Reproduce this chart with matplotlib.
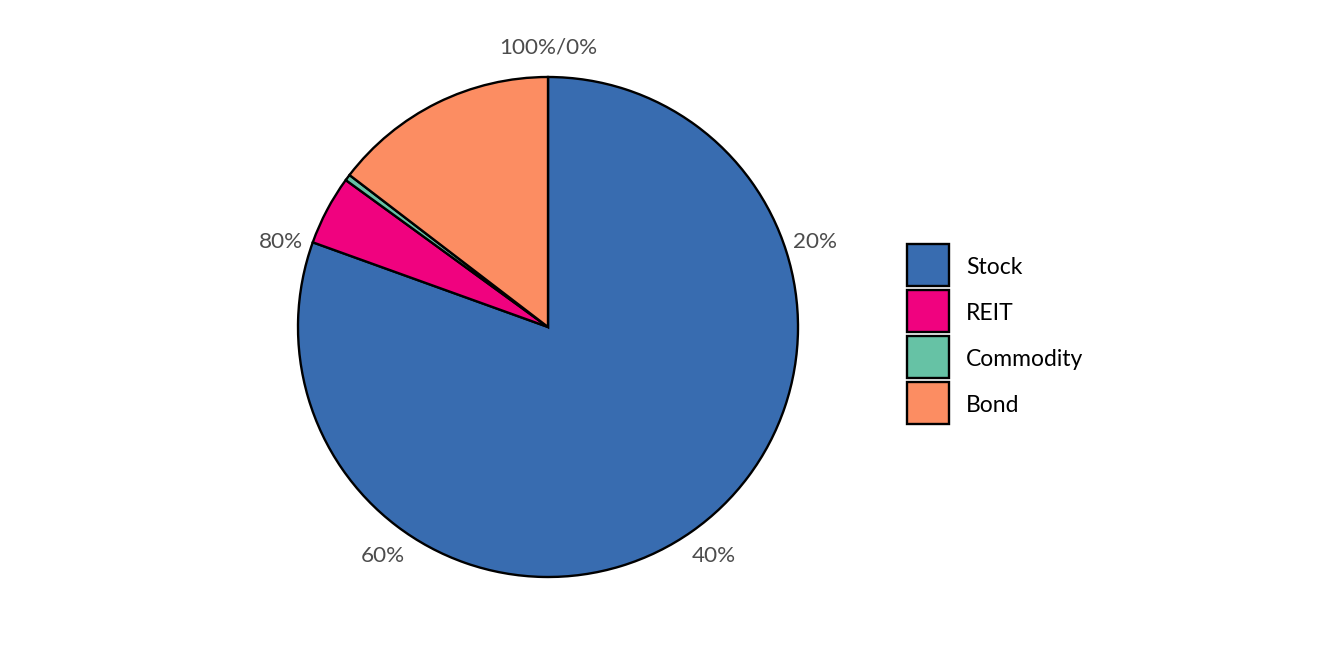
import matplotlib
matplotlib.use("Agg")
import matplotlib.pyplot as plt
from matplotlib.patches import Rectangle
import numpy as np

plt.rcParams['font.family'] = ['Lato', 'DejaVu Sans']

categories = ["Stock", "REIT", "Commodity", "Bond"]
values = [80.5, 4.5, 0.4, 14.6]
colors = ["#386CB0", "#F0027F", "#66C2A5", "#FC8D62"]
tick_positions = [0, 20, 40, 60, 80]
tick_labels = ["100%/0%", "20%", "40%", "60%", "80%"]

W, H = 1344, 672
fig = plt.figure(figsize=(W / 100, H / 100), dpi=100)

# pie axes: center (548, 327) px from top, radius 250 px; limits ±1.3
R = 1.3
size = 650
cx, cy = 548, 327
ax = fig.add_axes([(cx - size / 2) / W, (H - cy - size / 2) / H, size / W, size / H])
wedges, _ = ax.pie(values, colors=colors, startangle=90, counterclock=False,
                   radius=1.0, wedgeprops=dict(edgecolor="black", linewidth=1.7))
ax.set_xlim(-R, R)
ax.set_ylim(-R, R)
ax.set_aspect("equal")
ax.axis("off")

for pos, lab in zip(tick_positions, tick_labels):
    ang = np.deg2rad(90 - pos / 100 * 360)
    r = 1.125
    ax.text(r * np.cos(ang), r * np.sin(ang) - 0.006, lab, ha="center", va="center",
            fontsize=16.2, color="#4D4D4D")

# legend drawn in pixel coords
lax = fig.add_axes([0, 0, 1, 1])
lax.set_xlim(0, W)
lax.set_ylim(H, 0)
lax.axis("off")
key_x, key_y0, key_w, key_h, gap = 907, 244, 42, 42, 4
for i, (cat, col) in enumerate(zip(categories, colors)):
    y = key_y0 + i * (key_h + gap)
    lax.add_patch(Rectangle((key_x, y), key_w, key_h, facecolor=col,
                            edgecolor="black", linewidth=1.7))
    lax.text(966, y + key_h / 2 + 2, cat, ha="left", va="center", fontsize=16.5, color="black")

fig.savefig("out.png", dpi=100)
